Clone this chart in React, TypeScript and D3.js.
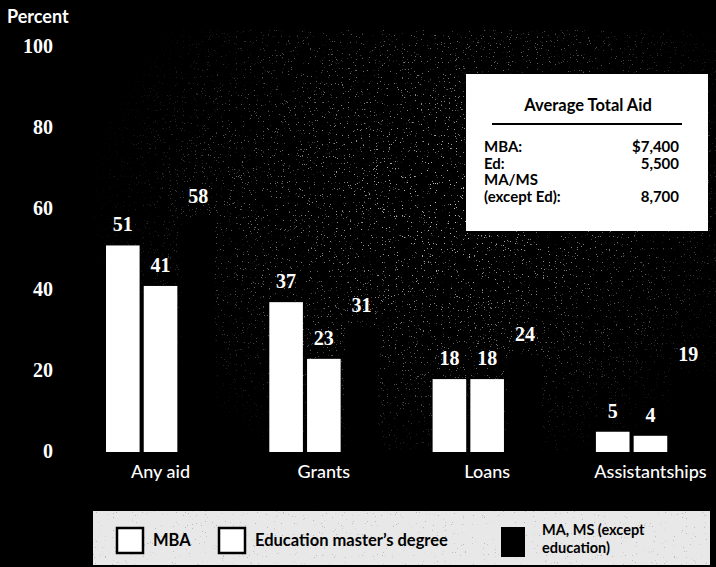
import React from "react";
import * as d3 from "d3";

const categories = ["Any aid", "Grants", "Loans", "Assistantships"];
const seriesNames = ["MBA", "Education master's degree", "MA, MS (except education)"];
const mbaValues = [51, 37, 18, 5];
const edValues = [41, 23, 18, 4];
const mamsValues = [58, 31, 24, 19];
const yTicks = [0, 20, 40, 60, 80, 100];
const boxTitle = "Average Total Aid";
const boxLabels = ["MBA:", "Ed:", "MA/MS", "(except Ed):"];
const boxValues = ["$7,400", "5,500", "", "8,700"];

const W = 716;
const H = 567;
const sans = "Lato, 'Open Sans', sans-serif";
const serif = "'Liberation Serif', 'DejaVu Serif', serif";

export default function App() {
  const y = d3.scaleLinear().domain([0, 100]).range([452, 47]);
  const x0 = d3.scaleBand<string>().domain(categories).range([106, 705]).paddingInner(0.332).paddingOuter(0);
  const x1 = d3.scaleBand<string>().domain(seriesNames).range([0, x0.bandwidth()]).paddingInner(0.11);
  const series = [mbaValues, edValues, mamsValues];
  const fills = ["#ffffff", "#ffffff", "#000000"];

  return (
    <svg width={W} height={H} style={{ position: "absolute", left: 0, top: 0, display: "block" }}>
      <defs>
        <filter id="speck" x="0" y="0" width="100%" height="100%">
          <feTurbulence type="fractalNoise" baseFrequency="0.85" numOctaves={2} seed={7} result="n" />
          <feColorMatrix in="n" type="matrix" values="0 0 0 0 0.85  0 0 0 0 0.85  0 0 0 0 0.85  16 0 0 0 -11.0" />
        </filter>
        <radialGradient id="cloud" cx="0.62" cy="0.36" r="0.5">
          <stop offset="0" stopColor="#fff" stopOpacity={0.85} />
          <stop offset="0.6" stopColor="#fff" stopOpacity={0.4} />
          <stop offset="1" stopColor="#fff" stopOpacity={0} />
        </radialGradient>
        <mask id="cloudMask">
          <rect x={0} y={0} width={W} height={H} fill="url(#cloud)" />
        </mask>
        <filter id="speck2" x="0" y="0" width="100%" height="100%">
          <feTurbulence type="fractalNoise" baseFrequency="0.9" numOctaves={2} seed={3} result="n" />
          <feColorMatrix in="n" type="matrix" values="0 0 0 0 0.5  0 0 0 0 0.5  0 0 0 0 0.5  16 0 0 0 -11.6" />
        </filter>
      </defs>
      <rect x={0} y={0} width={W} height={H} fill="#000" />
      <rect x={60} y={30} width={656} height={420} filter="url(#speck)" mask="url(#cloudMask)" />

      {/* Y axis */}
      <text x={7} y={23} fill="#fff" fontFamily={sans} fontWeight={700} fontSize={18}>Percent</text>
      {yTicks.map((t) => (
        <text key={t} x={53} y={y(t) + 6} fill="#fff" fontFamily={serif} fontWeight={700} fontSize={20} textAnchor="end">
          {t}
        </text>
      ))}

      {/* Bars */}
      {categories.map((c, i) => (
        <g key={c} transform={`translate(${x0(c)},0)`}>
          {seriesNames.map((s, j) => {
            const v = series[j][i];
            const bx = x1(s) as number;
            return (
              <g key={s}>
                <rect x={bx} y={y(v)} width={x1.bandwidth()} height={y(0) - y(v)} fill={fills[j]} />
                <text
                  x={bx + x1.bandwidth() / 2}
                  y={y(v) - 14}
                  fill="#fff"
                  fontFamily={serif}
                  fontWeight={700}
                  fontSize={20}
                  textAnchor="middle"
                >
                  {v}
                </text>
              </g>
            );
          })}
          <text x={x0.bandwidth() / 2} y={478} fill="#fff" fontFamily={sans} fontWeight={500} fontSize={18} textAnchor="middle">
            {c}
          </text>
        </g>
      ))}

      {/* Inset box */}
      <rect x={466} y={74} width={242} height={157} fill="#fff" />
      <text x={588} y={111} fill="#000" fontFamily={sans} fontWeight={700} fontSize={16.5} textAnchor="middle">
        {boxTitle}
      </text>
      <line x1={492} x2={682} y1={124} y2={124} stroke="#000" strokeWidth={2} />
      {boxLabels.map((l, i) => (
        <g key={l}>
          <text x={484} y={152 + i * 16.5} fill="#000" fontFamily={sans} fontWeight={700} fontSize={15}>
            {l}
          </text>
          {boxValues[i] && (
            <text x={679} y={152 + i * 16.5} fill="#000" fontFamily={sans} fontWeight={700} fontSize={15} textAnchor="end">
              {boxValues[i]}
            </text>
          )}
        </g>
      ))}

      {/* Legend */}
      <rect x={93} y={511} width={617} height={54} fill="#e8e8e8" />
      <rect x={93} y={511} width={617} height={54} filter="url(#speck2)" />
      <rect x={117} y={528} width={26} height={25} fill="#fff" stroke="#000" strokeWidth={2.5} />
      <text x={153} y={546} fill="#000" fontFamily={sans} fontWeight={700} fontSize={16.5}>MBA</text>
      <rect x={219} y={528} width={26} height={25} fill="#fff" stroke="#000" strokeWidth={2.5} />
      <text x={255} y={546} fill="#000" fontFamily={sans} fontWeight={700} fontSize={16.5}>Education master’s degree</text>
      <rect x={501} y={527} width={24} height={30} fill="#000" />
      <text x={542} y={535} fill="#000" fontFamily={sans} fontWeight={700} fontSize={14.5}>MA, MS (except</text>
      <text x={542} y={553} fill="#000" fontFamily={sans} fontWeight={700} fontSize={14.5}>education)</text>
    </svg>
  );
}
